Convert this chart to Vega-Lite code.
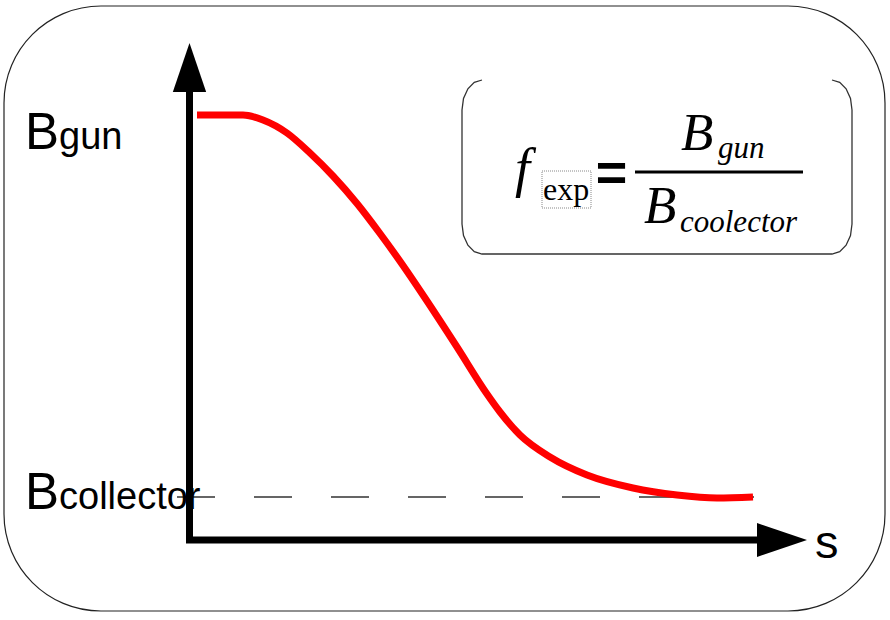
{
  "$schema": "https://vega.github.io/schema/vega-lite/v6.json",
  "width": 890,
  "height": 620,
  "autosize": {"type": "fit", "contains": "padding"},
  "padding": 0,
  "background": "white",
  "config": {"view": {"stroke": null}},
  "encoding": {
    "x": {"field": "x", "type": "quantitative", "scale": {"domain": [-189, 701], "nice": false, "zero": false}, "axis": null},
    "y": {"field": "y", "type": "quantitative", "scale": {"domain": [-80, 540], "nice": false, "zero": false}, "axis": null}
  },
  "layer": [
    {
      "data": {"values": [{"x": -185, "x2": 696, "y": 534, "y2": -71}]},
      "mark": {"type": "rect", "filled": false, "stroke": "#222222", "strokeWidth": 1.2, "cornerRadius": 97},
      "encoding": {"x2": {"field": "x2"}, "y2": {"field": "y2"}}
    },
    {
      "data": {"values": [
        {"o": 1, "x": 293, "y": 460}, {"o": 2, "x": 285.3, "y": 457.7}, {"o": 3, "x": 278.9, "y": 451.2},
        {"o": 4, "x": 274.5, "y": 441.5}, {"o": 5, "x": 273, "y": 430}, {"o": 6, "x": 273, "y": 316},
        {"o": 7, "x": 274.5, "y": 304.5}, {"o": 8, "x": 278.9, "y": 294.8}, {"o": 9, "x": 285.3, "y": 288.3},
        {"o": 10, "x": 293, "y": 286}, {"o": 11, "x": 643, "y": 286}, {"o": 12, "x": 650.7, "y": 288.3},
        {"o": 13, "x": 657.1, "y": 294.8}, {"o": 14, "x": 661.5, "y": 304.5}, {"o": 15, "x": 663, "y": 316},
        {"o": 16, "x": 663, "y": 430}, {"o": 17, "x": 661.5, "y": 441.5}, {"o": 18, "x": 657.1, "y": 451.2},
        {"o": 19, "x": 650.7, "y": 457.7}, {"o": 20, "x": 643, "y": 460}
      ]},
      "mark": {"type": "line", "color": "#333333", "strokeWidth": 1.3},
      "encoding": {"order": {"field": "o", "type": "quantitative"}}
    },
    {
      "data": {"values": [{"x": -12, "x2": 565, "y": 43}]},
      "mark": {"type": "rule", "color": "#333333", "strokeWidth": 1.3, "strokeDash": [38, 39]},
      "encoding": {"x2": {"field": "x2"}}
    },
    {
      "data": {"values": [
        {"x": 8, "y": 425}, {"x": 54, "y": 425}, {"x": 74, "y": 420}, {"x": 98, "y": 407},
        {"x": 121, "y": 387}, {"x": 144, "y": 364}, {"x": 168, "y": 336.5}, {"x": 191, "y": 306.5},
        {"x": 214, "y": 274.5}, {"x": 236, "y": 242}, {"x": 268, "y": 193}, {"x": 298, "y": 146},
        {"x": 311, "y": 128}, {"x": 331, "y": 105}, {"x": 361, "y": 83}, {"x": 398, "y": 65},
        {"x": 444, "y": 52}, {"x": 488, "y": 45}, {"x": 528, "y": 42}, {"x": 564, "y": 43}
      ]},
      "mark": {"type": "line", "color": "#ff0000", "strokeWidth": 7, "interpolate": "monotone", "strokeCap": "butt"}
    },
    {
      "data": {"values": [{"x": 0.5, "x2": 0.5, "y": -2, "y2": 448}, {"x": -3, "x2": 571, "y": 0, "y2": 0}]},
      "mark": {"type": "rule", "color": "black", "strokeWidth": 7},
      "encoding": {"x2": {"field": "x2"}, "y2": {"field": "y2"}}
    },
    {
      "data": {"values": [{"x": 0.5, "y": 472.5}]},
      "mark": {"type": "point", "shape": "M0,-1L-0.68,1L0.68,1Z", "size": 2401, "filled": true, "color": "black", "opacity": 1, "strokeWidth": 0}
    },
    {
      "data": {"values": [{"x": 593, "y": 0}]},
      "mark": {"type": "point", "shape": "M1,0L-1,-0.68L-1,0.68Z", "size": 2500, "filled": true, "color": "black", "opacity": 1, "strokeWidth": 0}
    },
    {
      "data": {"values": [{"x": -164, "y": 391, "t": "B"}, {"x": -164, "y": 31, "t": "B"}]},
      "mark": {"type": "text", "font": "Liberation Sans", "fontSize": 51, "align": "left", "baseline": "alphabetic", "color": "black"},
      "encoding": {"text": {"field": "t"}}
    },
    {
      "data": {"values": [{"x": -130, "y": 391, "t": "gun"}, {"x": -130, "y": 31, "t": "collector"}]},
      "mark": {"type": "text", "font": "Liberation Sans", "fontSize": 38, "align": "left", "baseline": "alphabetic", "color": "black"},
      "encoding": {"text": {"field": "t"}}
    },
    {
      "data": {"values": [{"x": 626, "y": -18, "t": "s"}]},
      "mark": {"type": "text", "font": "Liberation Sans", "fontSize": 47, "align": "left", "baseline": "alphabetic", "color": "black"},
      "encoding": {"text": {"field": "t"}}
    },
    {
      "data": {"values": [{"x": 353, "x2": 402, "y": 369, "y2": 332}]},
      "mark": {"type": "rect", "filled": false, "stroke": "#888888", "strokeWidth": 1, "strokeDash": [1, 1]},
      "encoding": {"x2": {"field": "x2"}, "y2": {"field": "y2"}}
    },
    {
      "data": {"values": [{"x": 446, "x2": 614, "y": 368}]},
      "mark": {"type": "rule", "color": "black", "strokeWidth": 3},
      "encoding": {"x2": {"field": "x2"}}
    },
    {
      "data": {"values": [{"x": 326, "y": 354, "t": "f"}]},
      "mark": {"type": "text", "font": "Liberation Serif", "fontStyle": "italic", "fontSize": 54, "align": "left", "baseline": "alphabetic", "color": "black"},
      "encoding": {"text": {"field": "t"}}
    },
    {
      "data": {"values": [{"x": 354, "y": 340, "t": "exp"}]},
      "mark": {"type": "text", "font": "Liberation Serif", "fontSize": 32, "align": "left", "baseline": "alphabetic", "color": "black"},
      "encoding": {"text": {"field": "t"}}
    },
    {
      "data": {"values": [{"x": 422.5, "y": 349.5, "t": "="}]},
      "mark": {"type": "text", "font": "Liberation Sans", "fontWeight": "bold", "fontSize": 54, "align": "center", "baseline": "alphabetic", "color": "black"},
      "encoding": {"text": {"field": "t"}}
    },
    {
      "data": {"values": [{"x": 492, "y": 390, "t": "B"}, {"x": 455, "y": 317, "t": "B"}]},
      "mark": {"type": "text", "font": "Liberation Serif", "fontStyle": "italic", "fontSize": 53, "align": "left", "baseline": "alphabetic", "color": "black"},
      "encoding": {"text": {"field": "t"}}
    },
    {
      "data": {"values": [{"x": 529, "y": 382, "t": "gun"}, {"x": 491, "y": 308, "t": "coolector"}]},
      "mark": {"type": "text", "font": "Liberation Serif", "fontStyle": "italic", "fontSize": 31, "align": "left", "baseline": "alphabetic", "color": "black"},
      "encoding": {"text": {"field": "t"}}
    }
  ]
}
